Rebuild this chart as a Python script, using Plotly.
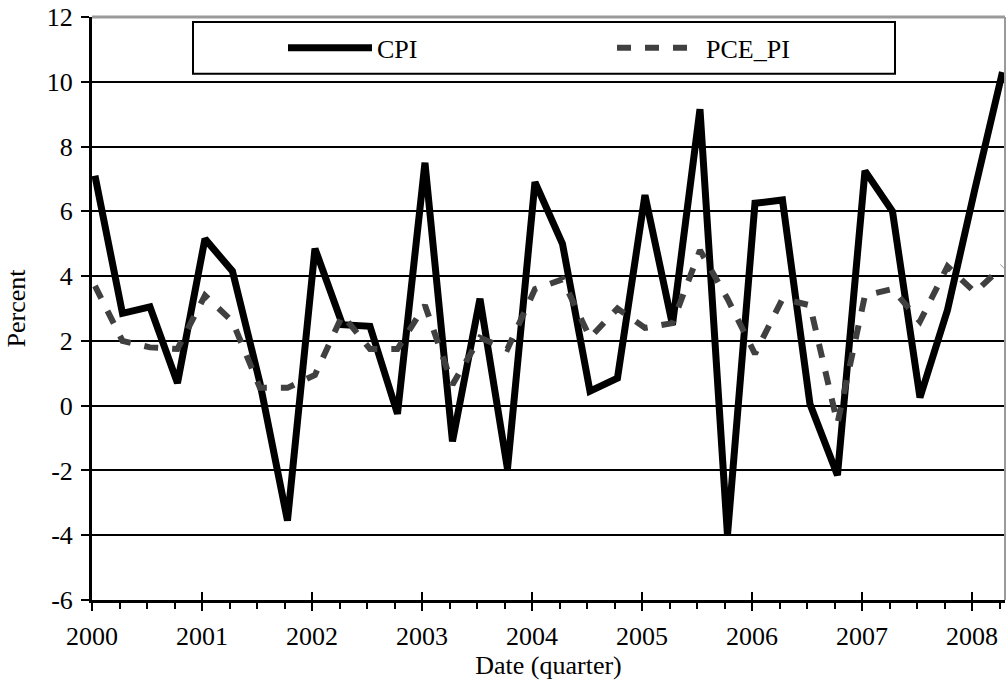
import plotly.graph_objects as go

# ---- data (quarterly, 2000Q1 .. 2008Q2) ----
quarters = [f"{y}Q{q}" for y in range(2000, 2009) for q in range(1, 5)][:34]
cpi = [7.1, 2.85, 3.05, 0.7, 5.15, 4.15, 0.7, -3.55, 4.85, 2.5, 2.45, -0.25,
       7.5, -1.1, 3.3, -1.95, 6.9, 5.0, 0.45, 0.85, 6.5, 2.5, 9.15, -4.0,
       6.25, 6.35, 0.05, -2.15, 7.25, 6.0, 0.25, 2.95, 6.7, 10.3]
pce_pi = [3.7, 2.0, 1.8, 1.75, 3.4, 2.6, 0.55, 0.55, 0.95, 2.8, 1.75, 1.75,
          3.1, 0.65, 2.1, 1.75, 3.6, 3.9, 2.1, 3.0, 2.4, 2.55, 4.8, 3.3,
          1.6, 3.3, 3.1, -0.55, 3.4, 3.6, 2.6, 4.3, 3.5, 4.3]
year_labels = [str(y) for y in range(2000, 2009)]
y_ticks = list(range(-6, 13, 2))

# numeric time for each quarter
x = [int(q[:4]) + (int(q[-1]) - 1) * 0.25 for q in quarters]

# plot-area geometry (px) used to place decorations
PL, PR, PT, PB = 92, 1005, 15, 600
PW, PH = PR - PL, PB - PT

def px_x(p):
    return (p - PL) / PW

def px_y(p):
    return 1 - (p - PT) / PH

OFF = 0.027  # category-style axis: tick marks sit slightly left of the points
major_vals = [int(y) - OFF for y in year_labels]
minor_vals = [2000 - OFF + k * 0.25 for k in range(34)]
xrange = [2000 - OFF, 2000 - OFF + PW / 110.0]

FONT = "Liberation Serif"

fig = go.Figure()
fig.add_trace(go.Scatter(x=x, y=cpi, name="CPI", mode="lines", legend="legend",
                         line=dict(color="black", width=7)))
fig.add_trace(go.Scatter(x=x, y=pce_pi, name="PCE_PI", mode="lines", legend="legend2",
                         line=dict(color="#404040", width=6, dash="14px,14px")))
# invisible trace to host the second (inside-tick) x axis
fig.add_trace(go.Scatter(x=[x[0]], y=[cpi[0]], xaxis="x2", mode="lines",
                         showlegend=False, hoverinfo="skip",
                         line=dict(color="rgba(0,0,0,0)")))

legend_common = dict(
    orientation="h", yanchor="middle", y=px_y(46),
    bgcolor="rgba(0,0,0,0)", borderwidth=0, itemwidth=84,
    font=dict(family=FONT, size=26, color="black"),
)

fig.update_layout(
    width=1008, height=688,
    margin=dict(l=PL, r=1008 - PR, t=PT, b=688 - PB),
    paper_bgcolor="white", plot_bgcolor="white",
    font=dict(family=FONT, size=26, color="black"),
    showlegend=True,
    legend=dict(x=px_x(283), xanchor="left", **legend_common),
    legend2=dict(x=px_x(612), xanchor="left", **legend_common),
    xaxis=dict(
        range=xrange, tickmode="array", tickvals=major_vals, ticktext=year_labels,
        ticks="outside", ticklen=8, tickwidth=2, tickcolor="black",
        ticklabelstandoff=3,
        minor=dict(tickmode="array", tickvals=minor_vals, ticks="outside",
                   ticklen=6, tickwidth=2, tickcolor="black", showgrid=False),
        showgrid=False, zeroline=False,
        showline=True, linecolor="black", linewidth=3,
        title=dict(text="Date (quarter)", standoff=6,
                   font=dict(family=FONT, size=26)),
        tickfont=dict(family=FONT, size=26),
    ),
    xaxis2=dict(
        range=xrange, overlaying="x", anchor="y", side="bottom",
        tickmode="array", tickvals=major_vals, ticktext=["" for _ in year_labels],
        ticks="inside", ticklen=8, tickwidth=2, tickcolor="black",
        showticklabels=False, showgrid=False, zeroline=False, showline=False,
    ),
    yaxis=dict(
        range=[-6, 12], tickmode="array", tickvals=y_ticks,
        ticktext=[str(v) for v in y_ticks],
        showgrid=True, gridcolor="black", gridwidth=2,
        zeroline=False,
        showline=True, linecolor="black", linewidth=3,
        ticks="outside", ticklen=8, tickwidth=2, tickcolor="black",
        ticklabelstandoff=3,
        title=dict(text="Percent", standoff=14, font=dict(family=FONT, size=26)),
        tickfont=dict(family=FONT, size=26),
    ),
    shapes=[
        dict(type="line", xref="paper", yref="paper", x0=0, x1=1, y0=1, y1=1,
             line=dict(color="#9a9a9a", width=3), layer="above"),
        dict(type="line", xref="paper", yref="paper", x0=1, x1=1, y0=0, y1=1,
             line=dict(color="#9a9a9a", width=2), layer="above"),
        # legend frame
        dict(type="rect", xref="paper", yref="paper",
             x0=px_x(193), x1=px_x(895), y0=px_y(72), y1=px_y(20),
             line=dict(color="black", width=2), fillcolor="white", layer="above"),
    ],
)

fig.write_html("out.html", config={"displayModeBar": False},
               post_script="document.body.style.margin='0px';")
